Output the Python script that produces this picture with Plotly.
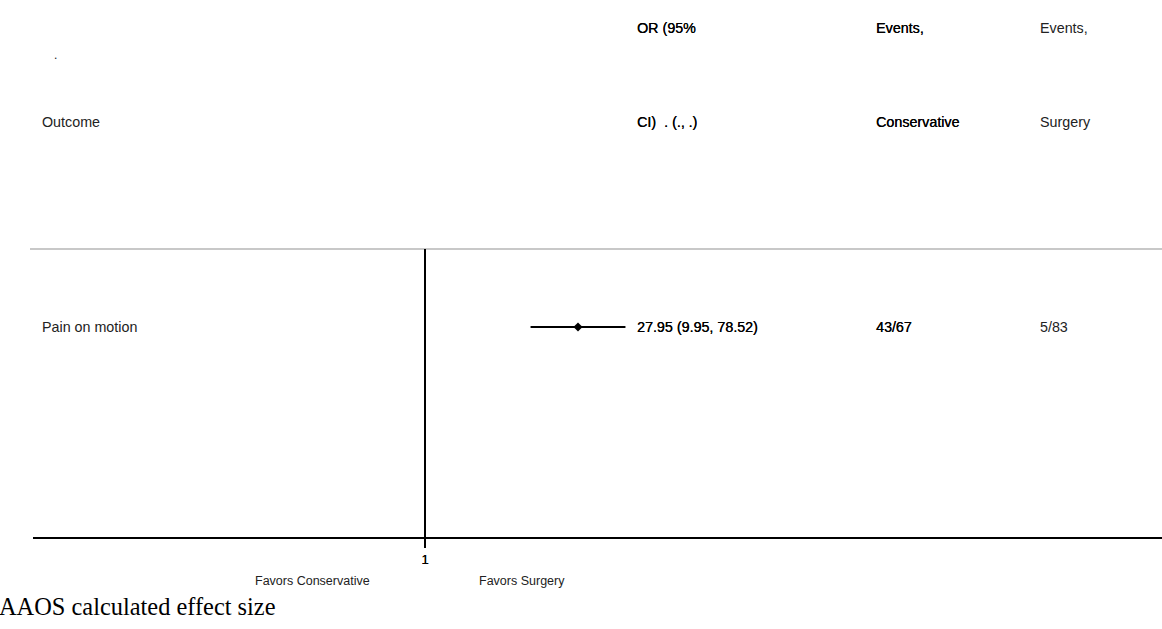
import math
import plotly.graph_objects as go

# ---- data ----
outcomes = ["Pain on motion"]
odds_ratios = [27.95]
ci_lower = [9.95]
ci_upper = [78.52]
events_conservative = ["43/67"]
events_surgery = ["5/83"]
null_value = 1
tick_values = [1]
tick_labels = ["1"]
left_label = "Favors Conservative"
right_label = "Favors Surgery"
footnote = "AAOS calculated effect size"

# ---- layout constants (pixels) ----
W, H = 1162, 629
PL, PR = 33, 1162        # plot area left/right
PT, PB = 249, 537        # plot area top/bottom
PW, PH = PR - PL, PB - PT


def fx(px):
    return (px - PL) / PW


def fy(py):
    return (PB - py) / PH


row_y = [fy(327)]

fig = go.Figure()

fig.add_trace(go.Scatter(
    x=odds_ratios, y=row_y, mode="markers",
    marker=dict(symbol="diamond", size=7, color="black"),
    error_x=dict(type="data", symmetric=False,
                 array=[u - o for u, o in zip(ci_upper, odds_ratios)],
                 arrayminus=[o - l for o, l in zip(odds_ratios, ci_lower)],
                 color="black", thickness=2, width=0),
    showlegend=False, hoverinfo="skip"))

ann = []
font_main = "Liberation Sans, Arial, sans-serif"
FS = 14.3


def txt(px, py, s, size=FS, color="#222", xanchor="left", family=font_main, heavy=False):
    f = dict(family=family, size=size, color=color)
    if heavy:
        f["shadow"] = "0.2px 0px 0px black"
    ann.append(dict(xref="paper", yref="paper", x=fx(px), y=fy(py), text=s,
                    showarrow=False, xanchor=xanchor, yanchor="middle", font=f,
                    borderpad=0))


# headers
txt(53, 55, ".", size=12)
txt(41, 122, "Outcome")
txt(636, 28, "OR (95%", color="black", heavy=True)
txt(636, 122, "CI)  . (., .)", color="black", heavy=True)
txt(875, 28, "Events,", color="black", heavy=True)
txt(875, 122, "Conservative", color="black", heavy=True)
txt(1039, 28, "Events,")
txt(1039, 122, "Surgery")

# rows
for i, name in enumerate(outcomes):
    py = 327
    txt(41, py, name)
    txt(636, py, f"{odds_ratios[i]:.2f} ({ci_lower[i]:.2f}, {ci_upper[i]:.2f})",
        color="black", heavy=True)
    txt(875, py, events_conservative[i], color="black", heavy=True)
    txt(1039, py, events_surgery[i])

txt(312, 581, left_label, size=12.5, xanchor="center")
txt(522, 581, right_label, size=12.5, xanchor="center")
ann.append(dict(xref="paper", yref="paper", x=fx(-2), y=fy(606), text=footnote,
                showarrow=False, xanchor="left", yanchor="middle", borderpad=0,
                font=dict(family="Liberation Serif, Times New Roman, serif", size=24.4, color="black")))

shapes = [
    dict(type="line", xref="paper", yref="paper", x0=fx(30), x1=fx(1162), y0=1, y1=1,
         line=dict(color="#c8c8c8", width=2)),
    dict(type="line", xref="x", yref="paper", x0=null_value, x1=null_value, y0=0, y1=1,
         line=dict(color="black", width=2)),
]

px_per_decade = 105.78
x_lo = -(425 - PL) / px_per_decade
x_hi = (PR - 425) / px_per_decade

fig.update_layout(
    width=W, height=H,
    margin=dict(l=PL, r=W - PR, t=PT, b=H - PB, pad=0),
    paper_bgcolor="white", plot_bgcolor="white",
    annotations=ann, shapes=shapes, hovermode=False,
    xaxis=dict(type="log", range=[x_lo, x_hi], showgrid=False, zeroline=False,
               showline=True, linecolor="black", linewidth=2,
               tickvals=tick_values, ticktext=tick_labels, ticks="outside",
               ticklen=9, tickwidth=2, tickcolor="black",
               tickfont=dict(family=font_main, size=13, color="black",
                             shadow="0.2px 0px 0px black")),
    yaxis=dict(range=[0, 1], showgrid=False, zeroline=False, showline=False,
               showticklabels=False, ticks=""),
)

fig.write_html("out.html", config={"displayModeBar": False},
               post_script="document.body.style.margin='0';document.body.style.overflow='hidden';")
